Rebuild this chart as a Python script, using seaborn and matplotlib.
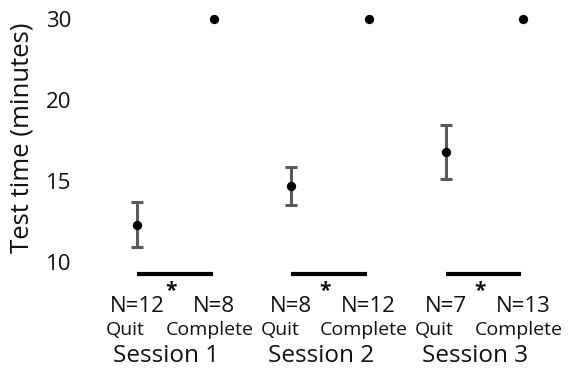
import numpy as np
import matplotlib
matplotlib.use("Agg")
import matplotlib.pyplot as plt
import seaborn as sns
import pandas as pd

# ---- data ----
sessions = ["Session 1", "Session 2", "Session 3"]
groups = ["Quit", "Complete"]
quit_mean = [12.3, 14.7, 16.8]
quit_err = [1.4, 1.15, 1.65]
complete_mean = [30, 30, 30]
n_quit = [12, 8, 7]
n_complete = [8, 12, 13]
yticks = [10, 15, 20, 30]

sns.set_style("white")
plt.rcParams["font.family"] = ["Open Sans", "DejaVu Sans"]
plt.rcParams["text.color"] = "#111111"
plt.rcParams["axes.labelcolor"] = "#111111"
plt.rcParams["ytick.color"] = "#111111"

fig = plt.figure(figsize=(5.68, 3.68), dpi=100)
ax = fig.add_axes([80 / 568, 0, 488 / 568, 1])

def fwd(y):
    y = np.asarray(y, dtype=float)
    return np.where(y <= 20, y, 20 + (y - 20) / 2)

def inv(t):
    t = np.asarray(t, dtype=float)
    return np.where(t <= 20, t, 20 + (t - 20) * 2)

ax.set_yscale("function", functions=(fwd, inv))

x_quit = [2 * i for i in range(len(sessions))]
x_comp = [2 * i + 1 for i in range(len(sessions))]

df = pd.DataFrame({
    "x": x_quit + x_comp,
    "y": quit_mean + complete_mean,
})

ax.errorbar(x_quit, quit_mean, yerr=quit_err, fmt="none", ecolor="#5a5a5a",
            elinewidth=2.2, capsize=4, capthick=2.2, zorder=2)
sns.scatterplot(data=df, x="x", y="y", color="black", s=45, edgecolor="black",
                linewidth=0, zorder=3, ax=ax, legend=False)

for i in range(len(sessions)):
    xq, xc = x_quit[i], x_comp[i]
    ax.plot([xq, xc - 0.02], [9.26, 9.26], color="black", lw=3, solid_capstyle="butt", zorder=2)
    ax.text(xq + 0.44, 7.84, "*", ha="center", va="baseline", fontsize=15, fontweight="bold")
    ax.text(xq, 6.91, f"N={n_quit[i]}", ha="center", va="baseline", fontsize=16)
    ax.text(xc, 6.91, f"N={n_complete[i]}", ha="center", va="baseline", fontsize=16)
    ax.text(xq - 0.15, 5.49, groups[0], ha="center", va="baseline", fontsize=14)
    ax.text(xc - 0.06, 5.49, groups[1], ha="center", va="baseline", fontsize=14)
    ax.text((xq + xc) / 2 - 0.12, 3.83, sessions[i], ha="center", va="baseline", fontsize=17.5)

ax.set_xlim(-0.738, 5.583)
ax.set_ylim(3.457, 32.35)
ax.set_yticks(yticks)
ax.set_yticklabels([str(v) for v in yticks], fontsize=16)
ax.set_xticks([])
ax.tick_params(axis="y", length=0, pad=6)
ax.set_xlabel("")
ax.set_ylabel("Test time (minutes)", fontsize=18.5)
ax.yaxis.set_label_coords(-0.094, 0.625)
for s in ax.spines.values():
    s.set_visible(False)

fig.savefig("out.png", dpi=100)
